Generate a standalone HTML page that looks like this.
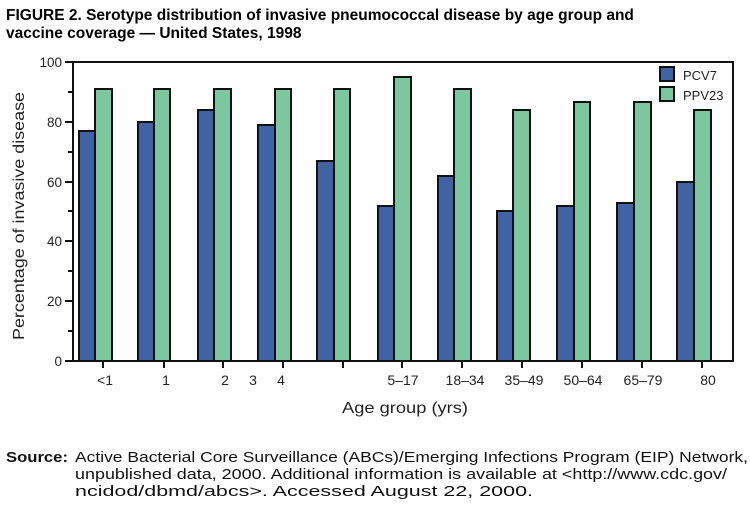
<!DOCTYPE html>
<html><head><style>
body{margin:0;background:#fff;width:750px;height:502px;overflow:hidden;font-family:"Liberation Sans",Arial,sans-serif}
</style></head><body>
<svg width="750" height="502" xmlns="http://www.w3.org/2000/svg" font-family="Liberation Sans, Arial, sans-serif">
<text x="6" y="20" font-size="15.5" font-weight="bold">FIGURE 2. Serotype distribution of invasive pneumococcal disease by age group and</text>
<text x="6" y="38" font-size="15.5" font-weight="bold">vaccine  coverage — United States, 1998</text>
<g stroke="#111" stroke-width="2">
<rect x="73" y="62" width="660" height="299" fill="none"/>
<line x1="65" y1="62" x2="73" y2="62"/><line x1="65" y1="122" x2="73" y2="122"/><line x1="65" y1="182" x2="73" y2="182"/><line x1="65" y1="241" x2="73" y2="241"/><line x1="65" y1="301" x2="73" y2="301"/><line x1="65" y1="361" x2="73" y2="361"/>
<line x1="68" y1="92" x2="73" y2="92"/><line x1="68" y1="152" x2="73" y2="152"/><line x1="68" y1="211" x2="73" y2="211"/><line x1="68" y1="271" x2="73" y2="271"/><line x1="68" y1="331" x2="73" y2="331"/>
</g>
<g font-size="13.5" fill="#222" text-anchor="end">
<text x="62" y="67">100</text><text x="62" y="127">80</text><text x="62" y="187">60</text><text x="62" y="246">40</text><text x="62" y="306">20</text><text x="62" y="366">0</text>
</g>
<text transform="translate(24,216) rotate(-90)" font-size="16" text-anchor="middle" fill="#222" textLength="248" lengthAdjust="spacingAndGlyphs">Percentage of invasive disease</text>
<g stroke="#111" stroke-width="2">
<rect x="79" y="131" width="16" height="230" fill="#4263a3"/><rect x="95" y="89" width="17" height="272" fill="#7cc6a0"/>
<rect x="138" y="122" width="16" height="239" fill="#4263a3"/><rect x="154" y="89" width="16" height="272" fill="#7cc6a0"/>
<rect x="198" y="110" width="16" height="251" fill="#4263a3"/><rect x="214" y="89" width="17" height="272" fill="#7cc6a0"/>
<rect x="258" y="125" width="17" height="236" fill="#4263a3"/><rect x="275" y="89" width="16" height="272" fill="#7cc6a0"/>
<rect x="317" y="161" width="17" height="200" fill="#4263a3"/><rect x="334" y="89" width="16" height="272" fill="#7cc6a0"/>
<rect x="378" y="206" width="16" height="155" fill="#4263a3"/><rect x="394" y="77" width="17" height="284" fill="#7cc6a0"/>
<rect x="438" y="176" width="16" height="185" fill="#4263a3"/><rect x="454" y="89" width="17" height="272" fill="#7cc6a0"/>
<rect x="497" y="211" width="16" height="150" fill="#4263a3"/><rect x="513" y="110" width="17" height="251" fill="#7cc6a0"/>
<rect x="557" y="206" width="17" height="155" fill="#4263a3"/><rect x="574" y="102" width="16" height="259" fill="#7cc6a0"/>
<rect x="617" y="203" width="17" height="158" fill="#4263a3"/><rect x="634" y="102" width="17" height="259" fill="#7cc6a0"/>
<rect x="677" y="182" width="17" height="179" fill="#4263a3"/><rect x="694" y="110" width="17" height="251" fill="#7cc6a0"/>
<rect x="660" y="67" width="14" height="14" fill="#4263a3"/><rect x="660" y="87" width="14" height="14" fill="#7cc6a0"/>
<line x1="103" y1="361" x2="103" y2="368"/><line x1="164" y1="361" x2="164" y2="368"/><line x1="223" y1="361" x2="223" y2="368"/><line x1="283" y1="361" x2="283" y2="368"/><line x1="343" y1="361" x2="343" y2="368"/><line x1="402" y1="361" x2="402" y2="368"/><line x1="462" y1="361" x2="462" y2="368"/><line x1="522" y1="361" x2="522" y2="368"/><line x1="582" y1="361" x2="582" y2="368"/><line x1="642" y1="361" x2="642" y2="368"/><line x1="702" y1="361" x2="702" y2="368"/>
</g>
<g font-size="13" fill="#222">
<text x="683" y="80">PCV7</text><text x="683" y="100">PPV23</text>
</g>
<g font-size="14" fill="#222" text-anchor="middle">
<text x="105" y="385">&lt;1</text><text x="166" y="385">1</text><text x="225" y="385">2</text><text x="253" y="385">3</text><text x="281" y="385">4</text>
<text x="403" y="385">5–17</text><text x="465" y="385">18–34</text><text x="524" y="385">35–49</text><text x="583" y="385">50–64</text><text x="643" y="385">65–79</text><text x="708" y="385">80</text>
</g>
<text x="342" y="413" font-size="16" fill="#222" textLength="126" lengthAdjust="spacingAndGlyphs">Age group (yrs)</text>
<g font-size="15" fill="#111">
<text x="6" y="462" font-weight="bold" textLength="62" lengthAdjust="spacingAndGlyphs">Source:</text>
<text x="75" y="462" textLength="673" lengthAdjust="spacingAndGlyphs">Active Bacterial Core Surveillance (ABCs)/Emerging Infections Program (EIP) Network,</text>
<text x="75" y="479" textLength="652" lengthAdjust="spacingAndGlyphs">unpublished data, 2000. Additional information is available at &lt;http://www.cdc.gov/</text>
<text x="75" y="496" textLength="458" lengthAdjust="spacingAndGlyphs">ncidod/dbmd/abcs&gt;.  Accessed August 22, 2000.</text>
</g>
</svg>
</body></html>
